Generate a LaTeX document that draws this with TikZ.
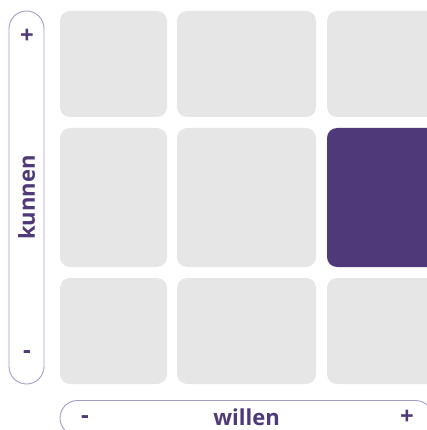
\documentclass[tikz,border=0pt]{standalone}
\usepackage{fontspec}
\setmainfont{Open Sans}
\usepackage{tikz}
\usetikzlibrary{positioning}
\definecolor{matgrijs}{RGB}{230, 230, 230}
\definecolor{matpaars}{RGB}{79, 57, 120}
\definecolor{aslijn}{RGB}{168, 155, 204}

\begin{document}
\begin{tikzpicture}[x=1pt, y=-1pt,
    cel/.style={rectangle, rounded corners=10pt, fill=matgrijs, inner sep=0pt},
    as/.style={rectangle, rounded corners=17.5pt, draw=aslijn, line width=0.9pt, fill=white, inner sep=0pt},
    aslabel/.style={font=\bfseries\fontsize{22}{24}\selectfont, text=matpaars, inner sep=0pt},
    teken/.style={font=\bfseries\fontsize{24}{26}\selectfont, text=matpaars, inner sep=0pt}
]
\useasboundingbox (0,0) rectangle (427,430);
\clip (0,0) rectangle (427,430);

% Matrix: bovenste rij
\node[cel, minimum width=107pt, minimum height=106pt] (c11) at (113.5,64) {};
\node[cel, minimum width=139pt, minimum height=106pt] (c12) at (246.5,64) {};
\node[cel, minimum width=139pt, minimum height=106pt] (c13) at (396.5,64) {};

% Middelste rij
\node[cel, minimum width=107pt, minimum height=139pt] (c21) at (113.5,197.5) {};
\node[cel, minimum width=139pt, minimum height=139pt] (c22) at (246.5,197.5) {};
\node[cel, fill=matpaars, minimum width=139pt, minimum height=139pt] (c23) at (396.5,197.5) {};

% Onderste rij
\node[cel, minimum width=107pt, minimum height=106pt] (c31) at (113.5,331) {};
\node[cel, minimum width=139pt, minimum height=106pt] (c32) at (246.5,331) {};
\node[cel, minimum width=139pt, minimum height=106pt] (c33) at (396.5,331) {};

% As: kunnen
\node[as, minimum width=35pt, minimum height=373pt] (kunnen) at (26.5,197.5) {};
\node[aslabel, rotate=90] (kunnentxt) at (kunnen.center) {kunnen};
\node[teken] (kplus) at (27,36) {+};
\node[teken] (kmin) at (27,355) {-};

% As: willen
\node[as, minimum width=373pt, minimum height=35pt] (willen) at (246.5,418) {};
\node[aslabel] (willentxt) at (246.5,417) {willen};
\node[teken] (wmin) at (85,420) {-};
\node[teken] (wplus) at (407,417) {+};

\end{tikzpicture}
\end{document}
